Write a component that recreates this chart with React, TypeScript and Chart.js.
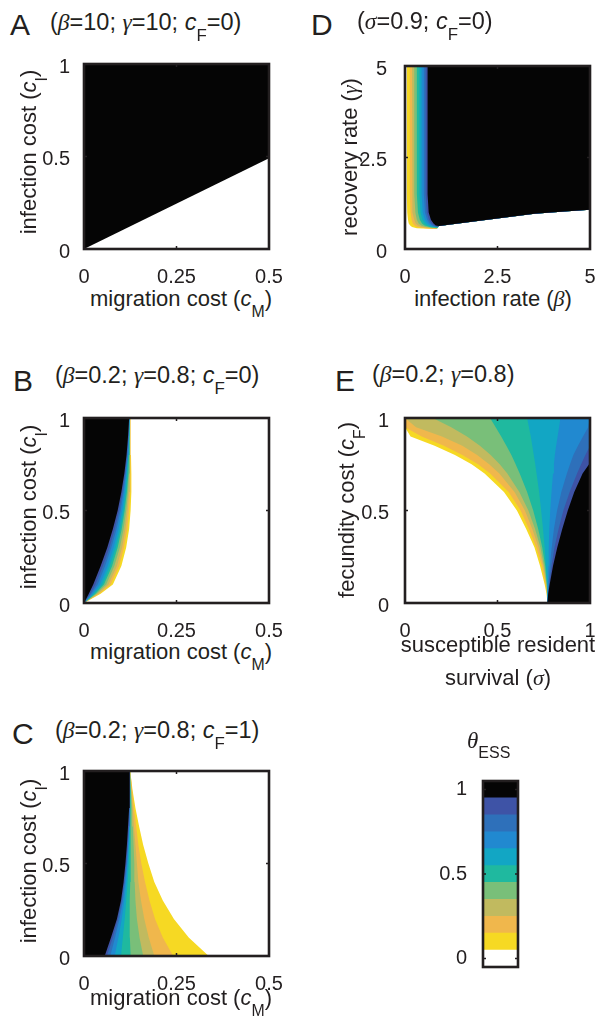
import React, { useEffect, useRef } from 'react';
import { Chart, registerables } from 'chart.js';

Chart.register(...registerables);

const SANS = "'Liberation Sans', Arial, Helvetica, sans-serif";
const SERIF = "'Liberation Serif', 'Times New Roman', serif";
const INK = '#231F20';

// theta_ESS contour levels, top layer (1) first, bottom layer (0.1) last
const LEVELS = [1.0, 0.9, 0.8, 0.7, 0.6, 0.5, 0.4, 0.3, 0.2, 0.1];
const LEVEL_COLORS = ['#050505', '#3E53A6', '#2E70BA', '#2189D0', '#12A6C4', '#1FB99F', '#79BF79', '#C1BA5F', '#F0B74C', '#F6D923'];

// tick values / labels
const CM_TICKS = [0, 0.25, 0.5];
const CM_LABELS = ['0', '0.25', '0.5'];
const UNIT_TICKS = [0, 0.5, 1];
const UNIT_LABELS = ['0', '0.5', '1'];
const RATE_TICKS = [0, 2.5, 5];
const RATE_LABELS = ['0', '2.5', '5'];

// Panel A: boundary of the theta=1 region (migration cost, infection cost)
const A_EDGE_CM = [0, 0.5];
const A_EDGE_CI = [0, 0.49];

// Panel B: contours x(cI) for each level
const B_CI = [0, 0.05, 0.1, 0.2, 0.3, 0.4, 0.5, 0.6, 0.7, 0.8, 0.9, 1];
const B_CM = [
  [0, 0.013, 0.025, 0.045, 0.063, 0.078, 0.091, 0.101, 0.109, 0.115, 0.119, 0.122],
  [0, 0.017, 0.031, 0.051, 0.069, 0.083, 0.095, 0.104, 0.111, 0.116, 0.120, 0.122],
  [0, 0.020, 0.037, 0.057, 0.074, 0.088, 0.099, 0.107, 0.113, 0.118, 0.121, 0.123],
  [0, 0.024, 0.043, 0.064, 0.080, 0.093, 0.103, 0.110, 0.115, 0.119, 0.121, 0.123],
  [0, 0.027, 0.049, 0.070, 0.086, 0.098, 0.107, 0.113, 0.117, 0.120, 0.122, 0.123],
  [0, 0.031, 0.054, 0.076, 0.091, 0.102, 0.110, 0.116, 0.120, 0.122, 0.123, 0.124],
  [0, 0.034, 0.060, 0.082, 0.097, 0.107, 0.114, 0.119, 0.122, 0.123, 0.124, 0.124],
  [0, 0.038, 0.066, 0.089, 0.103, 0.112, 0.118, 0.122, 0.124, 0.124, 0.124, 0.124],
  [0, 0.041, 0.072, 0.095, 0.108, 0.117, 0.122, 0.125, 0.126, 0.126, 0.125, 0.125],
  [0, 0.045, 0.078, 0.101, 0.114, 0.122, 0.126, 0.128, 0.128, 0.127, 0.126, 0.125],
];

// Panel C
const C_CI = [0, 0.1, 0.2, 0.3, 0.4, 0.5, 0.6, 0.7, 0.8, 0.9, 1];
const C_CM = [
  [0.056, 0.073, 0.089, 0.100, 0.107, 0.112, 0.116, 0.119, 0.122, 0.123, 0.124],
  [0.062, 0.078, 0.092, 0.102, 0.109, 0.114, 0.118, 0.121, 0.123, 0.124, 0.124],
  [0.071, 0.084, 0.096, 0.105, 0.111, 0.116, 0.119, 0.122, 0.123, 0.124, 0.124],
  [0.083, 0.093, 0.102, 0.109, 0.114, 0.118, 0.121, 0.123, 0.124, 0.124, 0.124],
  [0.100, 0.105, 0.110, 0.114, 0.118, 0.121, 0.123, 0.124, 0.125, 0.125, 0.124],
  [0.126, 0.124, 0.123, 0.124, 0.125, 0.126, 0.127, 0.127, 0.126, 0.125, 0.124],
  [0.160, 0.150, 0.143, 0.139, 0.137, 0.136, 0.134, 0.132, 0.130, 0.127, 0.125],
  [0.190, 0.175, 0.163, 0.154, 0.147, 0.143, 0.139, 0.135, 0.132, 0.128, 0.125],
  [0.241, 0.213, 0.192, 0.177, 0.165, 0.155, 0.147, 0.141, 0.135, 0.130, 0.125],
  [0.337, 0.283, 0.243, 0.213, 0.190, 0.174, 0.160, 0.149, 0.139, 0.131, 0.125],
];

// Panel D: contours beta(gamma); null where the contour has turned along the bottom
const D_GAMMA = [5, 1.5, 1.0, 0.8, 0.7, 0.64, 0.6, 0.57, 0.545];
const D_BETA = [
  [0.61, 0.61, 0.64, 0.70, 0.77, 0.83, null, null, null],
  [0.56, 0.56, 0.59, 0.65, 0.72, 0.79, 0.88, null, null],
  [0.51, 0.51, 0.54, 0.60, 0.67, 0.74, 0.85, null, null],
  [0.45, 0.45, 0.48, 0.54, 0.61, 0.68, 0.80, null, null],
  [0.39, 0.39, 0.42, 0.47, 0.54, 0.61, 0.74, null, null],
  [0.32, 0.32, 0.35, 0.40, 0.46, 0.53, 0.66, 0.88, null],
  [0.25, 0.25, 0.28, 0.32, 0.37, 0.44, 0.56, 0.84, null],
  [0.19, 0.19, 0.21, 0.25, 0.29, 0.35, 0.45, 0.75, null],
  [0.13, 0.13, 0.15, 0.18, 0.21, 0.26, 0.33, 0.55, 0.86],
  [0.05, 0.05, 0.06, 0.08, 0.10, 0.14, 0.19, 0.32, 0.82],
];
const D_LOW_BETA = [0.92, 1.7, 2.6, 3.5, 4.4, 5];
const D_LOW_GAMMA = [0.63, 0.73, 0.85, 0.96, 1.03, 1.07];

// Panel E: contours sigma(cF)
const E_CF = [0, 0.05, 0.1, 0.2, 0.3, 0.4, 0.5, 0.6, 0.7, 0.75, 0.8, 0.85, 0.9, 0.95, 1];
const E_SIGMA = [
  [0.77, 0.774, 0.782, 0.80, 0.823, 0.85, 0.88, 0.915, 0.96, 0.995, 1, 1, 1, 1, 1],
  [0.77, 0.773, 0.779, 0.792, 0.808, 0.83, 0.856, 0.89, 0.93, 0.952, 0.975, 1, 1, 1, 1],
  [0.77, 0.772, 0.776, 0.783, 0.793, 0.805, 0.822, 0.845, 0.875, 0.892, 0.91, 0.935, 0.962, 0.99, 1],
  [0.77, 0.771, 0.772, 0.774, 0.777, 0.78, 0.785, 0.792, 0.80, 0.805, 0.81, 0.817, 0.825, 0.833, 0.84],
  [0.77, 0.77, 0.768, 0.762, 0.755, 0.746, 0.736, 0.725, 0.711, 0.704, 0.696, 0.688, 0.68, 0.67, 0.66],
  [0.77, 0.769, 0.767, 0.758, 0.742, 0.72, 0.693, 0.66, 0.62, 0.598, 0.575, 0.548, 0.52, 0.49, 0.46],
  [0.77, 0.769, 0.765, 0.752, 0.732, 0.703, 0.667, 0.618, 0.553, 0.512, 0.463, 0.405, 0.335, 0.25, 0.15],
  [0.77, 0.768, 0.763, 0.747, 0.722, 0.688, 0.648, 0.592, 0.51, 0.455, 0.39, 0.31, 0.2, 0.06, 0],
  [0.77, 0.767, 0.76, 0.74, 0.71, 0.67, 0.625, 0.56, 0.46, 0.395, 0.31, 0.21, 0.09, 0, 0],
  [0.77, 0.765, 0.755, 0.73, 0.70, 0.655, 0.605, 0.535, 0.43, 0.36, 0.27, 0.16, 0.03, 0, 0],
];

// colour bar
const CB_VALUES = [0, 0.1, 0.2, 0.3, 0.4, 0.5, 0.6, 0.7, 0.8, 0.9, 1];
const CB_COLORS = ['#FFFFFF', '#F6D923', '#F0B74C', '#C1BA5F', '#79BF79', '#1FB99F', '#12A6C4', '#2189D0', '#2E70BA', '#3E53A6', '#050505'];

type Pt = { x: number; y: number };
type Poly = { color: string; pts: Pt[] };

function curve(xs: (number | null)[], ys: number[]): Pt[] {
  const out: Pt[] = [];
  xs.forEach((x, i) => { if (x !== null) out.push({ x, y: ys[i] }); });
  return out;
}

// region to the left of x(y) contours
function leftRegions(table: number[][], ys: number[]): Poly[] {
  return table.map((xs, k) => ({
    color: LEVEL_COLORS[k],
    pts: [...curve(xs, ys), { x: 0, y: ys[ys.length - 1] }, { x: 0, y: ys[0] }],
  }));
}
// region to the right of x(y) contours
function rightRegions(table: number[][], ys: number[], xMax: number): Poly[] {
  return table.map((xs, k) => ({
    color: LEVEL_COLORS[k],
    pts: [...curve(xs, ys), { x: xMax, y: ys[ys.length - 1] }, { x: xMax, y: ys[0] }],
  }));
}

const A_POLYS: Poly[] = [{
  color: LEVEL_COLORS[0],
  pts: [...curve(A_EDGE_CM, A_EDGE_CI), { x: 0.5, y: 1 }, { x: 0, y: 1 }],
}];
const B_POLYS = leftRegions(B_CM, B_CI);
const C_POLYS = leftRegions(C_CM, C_CI);
const D_POLYS: Poly[] = D_BETA.map((xs, k) => ({
  color: LEVEL_COLORS[k],
  pts: [...curve(xs, D_GAMMA), ...curve(D_LOW_BETA, D_LOW_GAMMA), { x: 5, y: 5 }],
}));
const E_POLYS = rightRegions(E_SIGMA, E_CF, 1);

// box around the axes with short inward ticks (MATLAB style)
const framePlugin = {
  id: 'frame',
  afterDatasetsDraw(chart: any) {
    const { ctx, chartArea: a, scales } = chart;
    ctx.save();
    ctx.strokeStyle = INK;
    ctx.lineWidth = 2.6;
    ctx.strokeRect(a.left, a.top, a.right - a.left, a.bottom - a.top);
    ctx.lineWidth = 1.5;
    const TL = 3;
    ctx.beginPath();
    if (scales.x && scales.x.type === 'linear') {
      scales.x.ticks.forEach((t: any) => {
        const px = scales.x.getPixelForValue(t.value);
        ctx.moveTo(px, a.bottom); ctx.lineTo(px, a.bottom - TL);
        ctx.moveTo(px, a.top); ctx.lineTo(px, a.top + TL);
      });
    }
    if (scales.y) {
      scales.y.ticks.forEach((t: any) => {
        const py = scales.y.getPixelForValue(t.value);
        ctx.moveTo(a.left, py); ctx.lineTo(a.left + TL, py);
        ctx.moveTo(a.right, py); ctx.lineTo(a.right - TL, py);
      });
    }
    ctx.stroke();
    ctx.restore();
  },
};

const PLOT = 185;
const YW = 70, PT = 20, PR = 26, XH = 36;

function tickAxis(ticks: number[], labels: string[], min: number, max: number, extra: any) {
  return {
    type: 'linear',
    min,
    max,
    grid: { display: false },
    border: { display: false },
    afterBuildTicks: (s: any) => { s.ticks = ticks.map((v) => ({ value: v })); },
    ticks: {
      autoSkip: false,
      maxRotation: 0,
      color: INK,
      font: { family: SANS, size: 20 },
      callback: (_v: any, i: number) => labels[i],
      ...extra.ticks,
    },
    afterFit: extra.afterFit,
  };
}

function ContourPanel(props: {
  left: number; top: number; polys: Poly[];
  xMax: number; yMax: number;
  xTicks: number[]; xLabels: string[]; yTicks: number[]; yLabels: string[]; yPad: number;
}) {
  const ref = useRef<HTMLCanvasElement>(null);
  useEffect(() => {
    const chart = new Chart(ref.current as HTMLCanvasElement, {
      type: 'line',
      data: {
        datasets: props.polys.map((p) => ({
          data: p.pts,
          fill: 'shape',
          backgroundColor: p.color,
          borderColor: 'rgba(0,0,0,0)',
          borderWidth: 0,
          pointRadius: 0,
          tension: 0,
        })),
      } as any,
      options: {
        animation: false,
        responsive: false,
        events: [],
        layout: { padding: { left: 0, top: PT, right: PR, bottom: 0 } },
        plugins: { legend: { display: false }, tooltip: { enabled: false } },
        scales: {
          x: tickAxis(props.xTicks, props.xLabels, 0, props.xMax, {
            ticks: { padding: 8 },
            afterFit: (s: any) => { s.height = XH; },
          }),
          y: tickAxis(props.yTicks, props.yLabels, 0, props.yMax, {
            ticks: { padding: props.yPad, labelOffset: 3 },
            afterFit: (s: any) => { s.width = YW; },
          }),
        } as any,
      },
      plugins: [framePlugin],
    } as any);
    return () => chart.destroy();
  }, []);
  return (
    <canvas
      ref={ref}
      width={YW + PLOT + PR}
      height={PT + PLOT + XH}
      style={{ position: 'absolute', left: props.left - YW, top: props.top - PT, width: YW + PLOT + PR, height: PT + PLOT + XH }}
    />
  );
}

function ColorBar() {
  const ref = useRef<HTMLCanvasElement>(null);
  const CW = 95, CH = 226;
  useEffect(() => {
    const chart = new Chart(ref.current as HTMLCanvasElement, {
      type: 'bar',
      data: {
        labels: ['θ'],
        datasets: CB_VALUES.map((v, i) => ({
          data: [[-0.05, v + 0.05]],
          backgroundColor: CB_COLORS[i],
          borderWidth: 0,
          grouped: false,
          barPercentage: 1,
          categoryPercentage: 1,
        })),
      } as any,
      options: {
        animation: false,
        responsive: false,
        events: [],
        layout: { padding: { left: 0, top: 20, right: 10, bottom: 20 } },
        plugins: { legend: { display: false }, tooltip: { enabled: false } },
        scales: {
          x: { type: 'category', display: false },
          y: tickAxis(UNIT_TICKS, UNIT_LABELS, -0.05, 1.05, {
            ticks: { padding: 8 },
            afterFit: (s: any) => { s.width = 50; },
          }),
        } as any,
      },
      plugins: [framePlugin],
    } as any);
    return () => chart.destroy();
  }, []);
  return (
    <canvas ref={ref} width={CW} height={CH}
      style={{ position: 'absolute', left: 433, top: 761, width: CW, height: CH }} />
  );
}

const ASC = 0.8465;

function Txt(p: { x: number; y: number; size: number; center?: boolean; children: any }) {
  return (
    <div style={{
      position: 'absolute', left: p.x, top: p.y - ASC * p.size, fontSize: p.size,
      lineHeight: `${p.size}px`, fontFamily: SANS, color: INK, whiteSpace: 'nowrap',
      transform: p.center ? 'translateX(-50%)' : undefined,
    }}>{p.children}</div>
  );
}

function VTxt(p: { x: number; y: number; size: number; children: any }) {
  return (
    <div style={{ position: 'absolute', left: p.x, top: p.y, width: 0, height: 0, transform: 'rotate(-90deg)', transformOrigin: '0 0' }}>
      <div style={{
        position: 'absolute', left: 0, top: -ASC * p.size, fontSize: p.size, lineHeight: `${p.size}px`,
        fontFamily: SANS, color: INK, whiteSpace: 'nowrap', transform: 'translateX(-50%)',
      }}>{p.children}</div>
    </div>
  );
}

const G = (p: { children: any }) => <span style={{ fontFamily: SERIF, fontStyle: 'italic' }}>{p.children}</span>;
const It = (p: { children: any }) => <span style={{ fontStyle: 'italic' }}>{p.children}</span>;
const Sub = (p: { children: any }) => <span style={{ fontSize: '0.72em', position: 'relative', top: '0.66em' }}>{p.children}</span>;

const TS = 23.5; // panel parameter title size
const AS = 22; // axis title size

export default function App() {
  const L1 = 84, L2 = 405;
  return (
    <div style={{ position: 'absolute', left: 0, top: 0, width: 603, height: 1016, overflow: 'hidden', background: '#fff' }}>
      <ContourPanel left={L1} top={64} polys={A_POLYS} xMax={0.5} yMax={1}
        xTicks={CM_TICKS} xLabels={CM_LABELS} yTicks={UNIT_TICKS} yLabels={UNIT_LABELS} yPad={6} />
      <ContourPanel left={L1} top={418} polys={B_POLYS} xMax={0.5} yMax={1}
        xTicks={CM_TICKS} xLabels={CM_LABELS} yTicks={UNIT_TICKS} yLabels={UNIT_LABELS} yPad={6} />
      <ContourPanel left={L1} top={771} polys={C_POLYS} xMax={0.5} yMax={1}
        xTicks={CM_TICKS} xLabels={CM_LABELS} yTicks={UNIT_TICKS} yLabels={UNIT_LABELS} yPad={6} />
      <ContourPanel left={L2} top={64} polys={D_POLYS} xMax={5} yMax={5}
        xTicks={RATE_TICKS} xLabels={RATE_LABELS} yTicks={RATE_TICKS} yLabels={RATE_LABELS} yPad={10} />
      <ContourPanel left={L2} top={418} polys={E_POLYS} xMax={1} yMax={1}
        xTicks={UNIT_TICKS} xLabels={UNIT_LABELS} yTicks={UNIT_TICKS} yLabels={UNIT_LABELS} yPad={8} />
      <ColorBar />

      {/* panel letters */}
      <Txt x={10} y={35} size={30}>A</Txt>
      <Txt x={311} y={35} size={30}>D</Txt>
      <Txt x={13} y={391} size={30}>B</Txt>
      <Txt x={335} y={391} size={30}>E</Txt>
      <Txt x={12} y={744} size={30}>C</Txt>

      {/* panel parameter titles */}
      <Txt x={50} y={31} size={TS}>(<G>β</G>=10; <G>γ</G>=10; <It>c</It><Sub>F</Sub>=0)</Txt>
      <Txt x={357} y={30} size={TS}>(<G>σ</G>=0.9; <It>c</It><Sub>F</Sub>=0)</Txt>
      <Txt x={55} y={384} size={TS}>(<G>β</G>=0.2; <G>γ</G>=0.8; <It>c</It><Sub>F</Sub>=0)</Txt>
      <Txt x={372} y={383} size={TS}>(<G>β</G>=0.2; <G>γ</G>=0.8)</Txt>
      <Txt x={55} y={739} size={TS}>(<G>β</G>=0.2; <G>γ</G>=0.8; <It>c</It><Sub>F</Sub>=1)</Txt>

      {/* x-axis titles */}
      <Txt x={181} y={307} size={AS} center>migration cost (<It>c</It><Sub>M</Sub>)</Txt>
      <Txt x={181} y={660} size={AS} center>migration cost (<It>c</It><Sub>M</Sub>)</Txt>
      <Txt x={181} y={1006} size={AS} center>migration cost (<It>c</It><Sub>M</Sub>)</Txt>
      <Txt x={493} y={307} size={AS} center>infection rate (<G>β</G>)</Txt>
      <Txt x={498} y={653} size={AS} center>susceptible resident</Txt>
      <Txt x={498} y={686} size={AS} center>survival (<G>σ</G>)</Txt>

      {/* y-axis titles */}
      <VTxt x={37} y={152} size={AS}>infection cost (<It>c</It><Sub>I</Sub>)</VTxt>
      <VTxt x={37} y={507} size={AS}>infection cost (<It>c</It><Sub>I</Sub>)</VTxt>
      <VTxt x={37} y={861} size={AS}>infection cost (<It>c</It><Sub>I</Sub>)</VTxt>
      <VTxt x={358} y={157} size={AS}>recovery rate (<G>γ</G>)</VTxt>
      <VTxt x={355} y={510} size={AS}>fecundity cost (<It>c</It><Sub>F</Sub>)</VTxt>

      {/* colour bar label */}
      <Txt x={467} y={748} size={23}><G>θ</G><span style={{ fontSize: 16, position: 'relative', top: 10 }}>ESS</span></Txt>
    </div>
  );
}
